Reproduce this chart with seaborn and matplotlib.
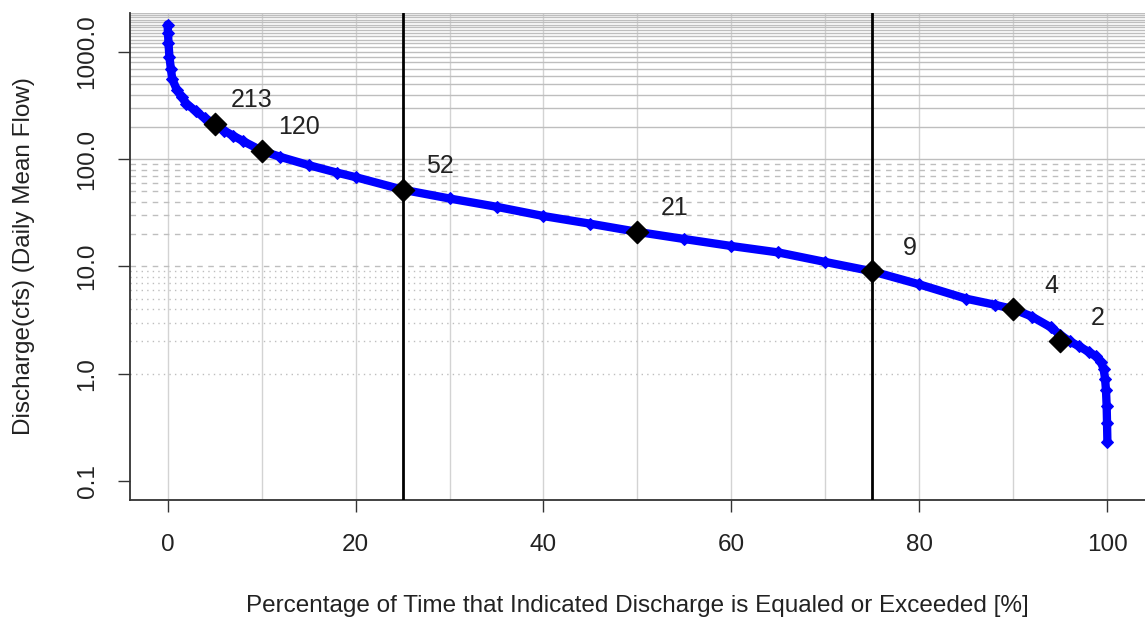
import numpy as np
import pandas as pd
import seaborn as sns
import matplotlib.pyplot as plt

# flow duration curve
pct = [0, 0.05, 0.1, 0.2, 0.35, 0.5, 1, 1.5, 2, 3, 4, 5, 6, 7, 8, 10, 12, 15, 18, 20, 25,
       30, 35, 40, 45, 50, 55, 60, 65, 70, 75, 80, 85, 88, 90, 92, 94, 95, 96, 97,
       98, 98.8, 99.3, 99.6, 99.75, 99.85, 99.92, 99.96, 100]
flow = [1800, 1500, 1200, 900, 700, 560, 440, 380, 330, 280, 240, 213, 185, 165, 148, 120,
        105, 88, 75, 68, 52, 43, 36, 29.5, 25, 21, 18, 15.5, 13.5, 11, 9, 6.8, 5.0,
        4.4, 4.0, 3.4, 2.7, 2.3, 2.0, 1.8, 1.6, 1.45, 1.3, 1.1, 0.9, 0.7, 0.5, 0.35, 0.23]

# marked exceedance percentiles
mark_pct = [5, 10, 25, 50, 75, 90, 95]
mark_flow = [213, 120, 52, 21, 9, 4, 2]
mark_lbl = ["213", "120", "52", "21", "9", "4", "2"]

sns.set_style("white")
plt.rcParams['font.family'] = ['Liberation Sans', 'DejaVu Sans']

fig = plt.figure(figsize=(11.45, 6.23), dpi=100)
ax = fig.add_axes([0.1135, 0.1974, 0.8865, 0.7816])

ax.set_yscale('log')
ax.set_xlim(-4, 104)
ax.set_ylim(0.0665, 2300)

# grid: vertical every 10 %, horizontal per decade with different line types
for v in range(0, 101, 10):
    ax.axvline(v, color='#d3d3d3', lw=1, zorder=0)
for m in range(1, 10):
    ax.axhline(m * 1.0, color='#bebebe', lw=1, ls=(0, (1, 3)), zorder=0)
    ax.axhline(m * 10.0, color='#bebebe', lw=1, ls=(0, (4, 4)), zorder=0)
    ax.axhline(m * 100.0, color='#bebebe', lw=1, zorder=0)
for g in range(1000, 2400, 100):
    ax.axhline(g, color='#bebebe', lw=1, zorder=0)

df = pd.DataFrame({'pct': pct, 'flow': flow})
sns.lineplot(data=df, x='pct', y='flow', ax=ax, color='#0000ff', lw=6,
             marker='D', markersize=6, markeredgecolor='#0000ff', zorder=3)

ax.axvline(25, color='black', lw=2, zorder=4)
ax.axvline(75, color='black', lw=2, zorder=4)

mk = pd.DataFrame({'pct': mark_pct, 'flow': mark_flow})
sns.scatterplot(data=mk, x='pct', y='flow', ax=ax, color='black', marker='D',
                s=130, edgecolor='black', zorder=5)
for x, y, t in zip(mark_pct, mark_flow, mark_lbl):
    ax.annotate(t, (x, y), xytext=(27, 17), textcoords='offset points',
                ha='center', va='center', fontsize=18, color='#222222')

ax.set_xticks([0, 20, 40, 60, 80, 100])
ax.set_yticks([0.1, 1, 10, 100, 1000])
ax.set_yticklabels(["0.1", "1.0", "10.0", "100.0", "1000.0"], rotation=90, va='center')
ax.minorticks_off()
ax.tick_params(axis='both', direction='out', length=8.6, width=1, labelsize=17.5,
               color='#333333', labelcolor='#222222', left=True, bottom=True)
ax.tick_params(axis='x', pad=16)
ax.tick_params(axis='y', pad=14)

ax.set_xlabel("Percentage of Time that Indicated Discharge is Equaled or Exceeded [%]",
              fontsize=17.5, color='#222222', labelpad=28)
ax.set_ylabel("Discharge(cfs) (Daily Mean Flow)", fontsize=17.5, color='#222222', labelpad=30)

for s in ['top', 'right']:
    ax.spines[s].set_visible(False)
for s in ['left', 'bottom']:
    ax.spines[s].set_color('#333333')
    ax.spines[s].set_linewidth(1.3)

fig.savefig('out.png', dpi=100)
